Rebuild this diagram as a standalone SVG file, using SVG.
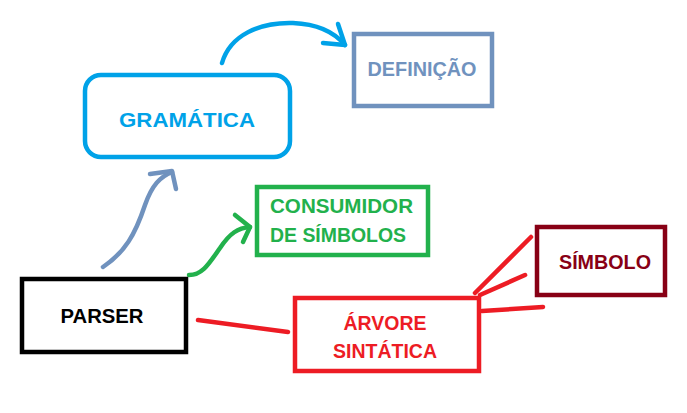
<svg xmlns="http://www.w3.org/2000/svg" width="687" height="413" viewBox="0 0 687 413">
<style>
text{font-family:"Liberation Sans",Arial,sans-serif;font-weight:bold;font-size:20px}
.box{fill:#fff;stroke-width:4.5}
.ln{fill:none;stroke-width:4.5;stroke-linecap:round;stroke-linejoin:round}
</style>
<rect width="687" height="413" fill="#fff"/>
<g id="connectors">
<path class="ln" stroke="#00A2E8" d="M222,63 C230,35 260,22 293,23 C318,24 335,33 345,45"/>
<path class="ln" stroke="#00A2E8" d="M338,24 L345,45 L323,43"/>
<path class="ln" stroke="#7092BE" d="M103,267 C125,252 135,235 145,205 C152,185 160,177 172,172"/>
<path class="ln" stroke="#7092BE" d="M150,174 L172,171 L176,189"/>
<path class="ln" stroke="#22B14C" d="M189,275 C203,275 210,262 220,248 C230,233 238,228 250,227"/>
<path class="ln" stroke="#22B14C" d="M235,215 L250,227 L243,242"/>
<path class="ln" stroke="#ED1C24" d="M198,320 L288,332"/>
<path class="ln" stroke="#ED1C24" d="M475,293 L531,237"/>
<path class="ln" stroke="#ED1C24" d="M480,295 L525,275"/>
<path class="ln" stroke="#ED1C24" d="M482,311 L543,307"/>
</g>
<g id="gramatica">
<rect class="box" x="85" y="75" width="205" height="82" rx="16" stroke="#00A2E8"/>
<text x="187" y="127" text-anchor="middle" fill="#00A2E8" font-size="25" textLength="136" lengthAdjust="spacingAndGlyphs">GRAMÁTICA</text>
</g>
<g id="definicao">
<rect class="box" x="354" y="34" width="138" height="72" stroke="#7092BE"/>
<text x="422" y="76" text-anchor="middle" fill="#7092BE" textLength="109" lengthAdjust="spacingAndGlyphs">DEFINIÇÃO</text>
</g>
<g id="parser">
<rect class="box" x="22" y="279" width="164" height="73" stroke="#000"/>
<text x="102" y="323" text-anchor="middle" fill="#000" font-size="22" textLength="83" lengthAdjust="spacingAndGlyphs">PARSER</text>
</g>
<g id="consumidor">
<rect class="box" x="257" y="187" width="171" height="68" stroke="#22B14C"/>
<text x="270" y="213" fill="#22B14C" textLength="143" lengthAdjust="spacingAndGlyphs">CONSUMIDOR</text>
<text x="270" y="242" fill="#22B14C" textLength="136" lengthAdjust="spacingAndGlyphs">DE SÍMBOLOS</text>
</g>
<g id="arvore">
<rect class="box" x="295" y="298" width="184" height="73" stroke="#ED1C24"/>
<text x="385" y="330" text-anchor="middle" fill="#ED1C24" textLength="83" lengthAdjust="spacingAndGlyphs">ÁRVORE</text>
<text x="385" y="358" text-anchor="middle" fill="#ED1C24" textLength="104" lengthAdjust="spacingAndGlyphs">SINTÁTICA</text>
</g>
<g id="simbolo">
<rect class="box" x="537" y="227" width="128" height="68" stroke="#880015"/>
<text x="605" y="269" text-anchor="middle" fill="#880015" textLength="92" lengthAdjust="spacingAndGlyphs">SÍMBOLO</text>
</g>
</svg>
